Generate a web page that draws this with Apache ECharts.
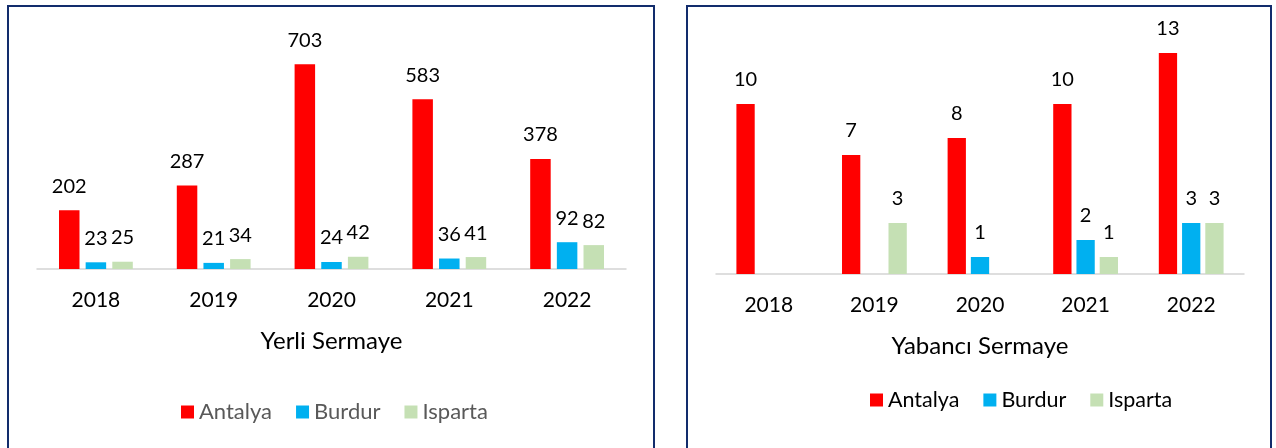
<!DOCTYPE html>
<html>
<head>
<meta charset="utf-8">
<script src="https://cdn.jsdelivr.net/npm/echarts@6/dist/echarts.min.js"></script>
<style>
  html, body { margin: 0; padding: 0; background: #fff; }
  #chart { width: 1276px; height: 448px; }
</style>
</head>
<body>
<div id="chart"></div>
<script>
// years on the category axis
var years = ['2018', '2019', '2020', '2021', '2022'];
var provinces = ['Antalya', 'Burdur', 'Isparta'];

// Yerli Sermaye (left)
var yerliAntalya = [202, 287, 703, 583, 378];
var yerliBurdur = [23, 21, 24, 36, 92];
var yerliIsparta = [25, 34, 42, 41, 82];

// Yabancı Sermaye (right)
var yabanciAntalya = [10, 7, 8, 10, 13];
var yabanciBurdur = [0, 0, 1, 2, 3];
var yabanciIsparta = [0, 3, 0, 1, 3];

var colors = ['#ff0000', '#00b0f0', '#c5e0b4'];
var font = 'Lato';

(function () {
  var myChart = echarts.init(document.getElementById('chart'));

  var hideZero = function (p) { return p.value ? p.value : ''; };

  function barSeries(name, data, idx, width) {
    return {
      name: name,
      type: 'bar',
      xAxisIndex: idx,
      yAxisIndex: idx,
      data: data,
      barWidth: width,
      barGap: idx === 0 ? '30%' : '27%',
      itemStyle: { color: colors[provinces.indexOf(name)] },
      label: {
        show: true,
        position: 'top',
        distance: 14,
        color: '#000',
        fontFamily: font,
        fontSize: 20,
        formatter: hideZero
      },
      animation: false
    };
  }

  function catAxis(idx, title) {
    return {
      type: 'category',
      gridIndex: idx,
      data: years,
      axisTick: { show: false },
      axisLine: { lineStyle: { color: '#d4d4d4', width: 1.5 } },
      axisLabel: { color: '#000', fontFamily: font, fontSize: 21, margin: 21 },
      name: title,
      nameLocation: 'middle',
      nameGap: 60,
      nameTextStyle: { color: '#000', fontFamily: font, fontSize: 24 }
    };
  }

  function valAxis(idx, max) {
    return {
      type: 'value',
      gridIndex: idx,
      min: 0,
      max: max,
      show: false,
      splitLine: { show: false }
    };
  }

  var option = {
    backgroundColor: '#fff',
    grid: [
      { left: 37, right: 650, top: 36, bottom: 179 },
      { left: 716, right: 32, top: 36, bottom: 174 }
    ],
    xAxis: [catAxis(0, 'Yerli Sermaye'), catAxis(1, 'Yabancı Sermaye')],
    yAxis: [valAxis(0, 800), valAxis(1, 14)],
    legend: [
      {
        data: provinces,
        left: 181,
        top: 401,
        padding: 0,
        icon: 'rect',
        itemWidth: 13,
        itemHeight: 13,
        itemGap: 24,
        textStyle: { color: '#595959', fontFamily: font, fontSize: 22 }
      },
      {
        data: provinces,
        left: 870,
        top: 389,
        padding: 0,
        icon: 'rect',
        itemWidth: 13,
        itemHeight: 13,
        itemGap: 24,
        textStyle: { color: '#000', fontFamily: font, fontSize: 21.5 }
      }
    ],
    graphic: [
      {
        type: 'rect',
        shape: { x: 8, y: 6, width: 646, height: 460 },
        style: { fill: 'none', stroke: '#122c6c', lineWidth: 2 },
        silent: true
      },
      {
        type: 'rect',
        shape: { x: 687, y: 6, width: 584, height: 460 },
        style: { fill: 'none', stroke: '#122c6c', lineWidth: 2 },
        silent: true
      }
    ],
    series: [
      barSeries('Antalya', yerliAntalya, 0, 20.5),
      barSeries('Burdur', yerliBurdur, 0, 20.5),
      barSeries('Isparta', yerliIsparta, 0, 20.5),
      barSeries('Antalya', yabanciAntalya, 1, 18.3),
      barSeries('Burdur', yabanciBurdur, 1, 18.3),
      barSeries('Isparta', yabanciIsparta, 1, 18.3)
    ]
  };
  myChart.setOption(option);
})();
</script>
</body>
</html>
